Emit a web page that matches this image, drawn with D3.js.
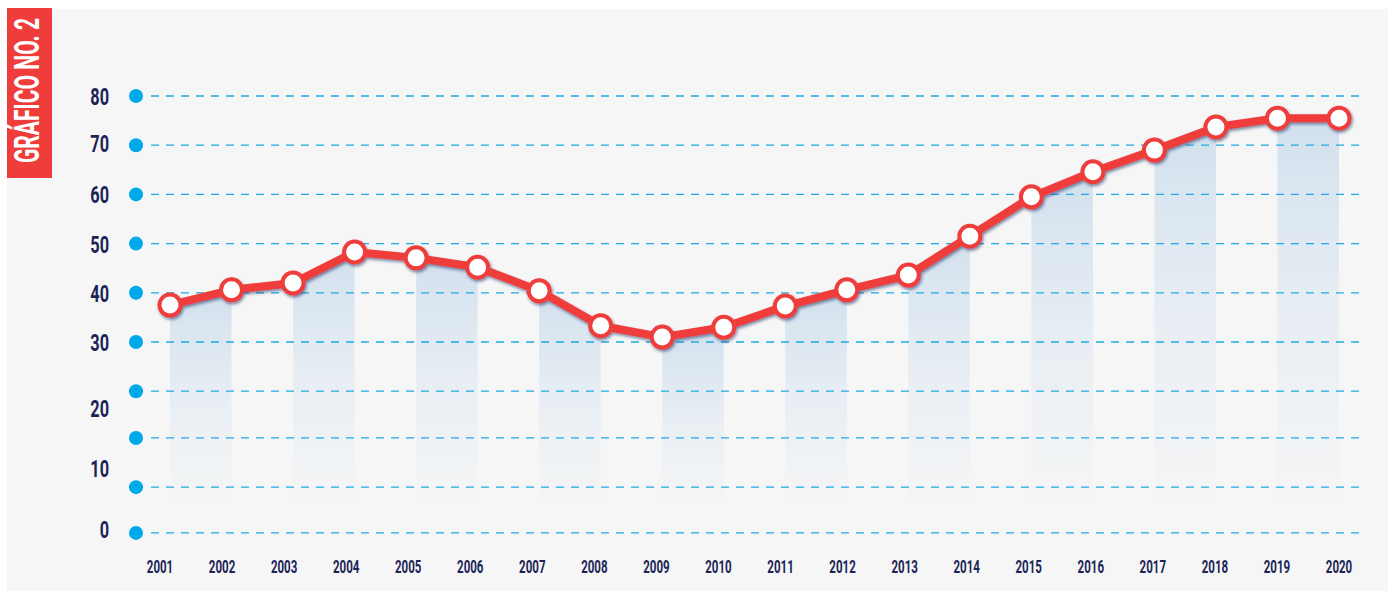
<!DOCTYPE html>
<html>
<head>
<meta charset="utf-8">
<script src="https://cdn.jsdelivr.net/npm/d3@7"></script>
<style>
  html, body { margin: 0; padding: 0; background: #fff; }
  svg { display: block; font-family: Roboto, "DejaVu Sans", sans-serif; }
</style>
</head>
<body>
<div id="chart"></div>
<script>
// Gráfico No. 2 - línea 2001-2020

const years = [2001, 2002, 2003, 2004, 2005, 2006, 2007, 2008, 2009, 2010,
               2011, 2012, 2013, 2014, 2015, 2016, 2017, 2018, 2019, 2020]
const values = [37.5, 40.6, 42.0, 48.3, 47.1, 45.2, 40.4, 33.3, 31.0, 33.0,
                37.3, 40.6, 43.6, 51.5, 59.5, 64.6, 69.0, 73.7, 75.5, 75.5]

// dashed guide lines (value each one sits at)
const gridValues = [80, 70, 60, 50, 40, 30, 20, 10.5, 0.5, -8.8]
// y labels and the value each one is printed at
const yTickLabels = ["80", "70", "60", "50", "40", "30", "20", "10", "0"]
const yTickAt = [80, 70.4, 60, 50, 40, 30, 16.6, 4.4, -8]

const title = "GRÁFICO NO. 2"

const W = 1389, H = 594
const colors = {red: "#ef3d3b", navy: "#1b2457", cyan: "#00a9e9", dash: "#1eaae6", panel: "#f6f6f6"}

const svg = d3.select("#chart").append("svg")
    .attr("width", W)
    .attr("height", H)

const x = d3.scaleLinear().domain([2001, 2020]).range([170, 1339])
const xLab = d3.scaleLinear().domain([2001, 2020]).range([160, 1339])
const y = d3.scaleLinear().domain([30, 80]).range([342, 96])
const baseValue = -2.5

const defs = svg.append("defs")

const grad = defs.append("linearGradient")
    .attr("id", "barGrad")
    .attr("x1", 0).attr("y1", 0).attr("x2", 0).attr("y2", 1)
grad.append("stop").attr("offset", "0%").attr("stop-color", "#cfdfed").attr("stop-opacity", 0.95)
grad.append("stop").attr("offset", "100%").attr("stop-color", "#e6edf4").attr("stop-opacity", 0.15)

const shadow = defs.append("filter")
    .attr("id", "shadow")
    .attr("x", "-10%").attr("y", "-10%").attr("width", "120%").attr("height", "130%")
shadow.append("feDropShadow")
    .attr("dx", 1.2).attr("dy", 2)
    .attr("stdDeviation", 1.4)
    .attr("flood-color", "#0e2b5c")
    .attr("flood-opacity", 0.55)

// background panel
svg.append("rect")
    .attr("x", 7).attr("y", 9)
    .attr("width", 1381).attr("height", 582)
    .style("fill", colors.panel)

// title tab
svg.append("rect")
    .attr("x", 7).attr("y", 8)
    .attr("width", 45).attr("height", 170)
    .style("fill", colors.red)
svg.append("text")
    .attr("transform", "translate(39,163) rotate(-90)")
    .attr("textLength", 145)
    .attr("lengthAdjust", "spacingAndGlyphs")
    .style("font-size", "35px")
    .style("font-weight", 700)
    .style("fill", "#fff")
    .text(title)

// shaded columns under the line, every other pair of years
const points = years.map((yr, i) => ({yr: yr, v: values[i]}))
const pairs = d3.range(0, points.length - 1, 2).map(i => [points[i], points[i + 1]])
const area = d3.area()
    .x(d => x(d.yr))
    .y0(y(baseValue))
    .y1(d => y(d.v))

svg.append("g")
    .selectAll("path")
    .data(pairs).enter()
    .append("path")
    .attr("d", area)
    .style("fill", "url(#barGrad)")

// grid: dots and dashed lines
const grid = svg.append("g")
grid.selectAll("line")
    .data(gridValues).enter()
    .append("line")
    .attr("x1", 151)
    .attr("x2", 1362)
    .attr("y1", d => y(d))
    .attr("y2", d => y(d))
    .style("stroke", colors.dash)
    .style("stroke-width", 1.3)
    .style("stroke-dasharray", "8,7")
grid.selectAll("circle")
    .data(gridValues).enter()
    .append("circle")
    .attr("cx", 136)
    .attr("cy", d => y(d))
    .attr("r", 7)
    .style("fill", colors.cyan)

// y labels
svg.append("g")
    .selectAll("text")
    .data(yTickLabels).enter()
    .append("text")
    .attr("transform", (d, i) => "translate(109," + (y(yTickAt[i]) + 9) + ") scale(0.68,1)")
    .attr("text-anchor", "end")
    .style("font-size", "24px")
    .style("font-weight", 700)
    .style("fill", colors.navy)
    .text(d => d)

// x labels
svg.append("g")
    .selectAll("text")
    .data(years).enter()
    .append("text")
    .attr("transform", d => "translate(" + xLab(d) + ",573) scale(0.64,1)")
    .attr("text-anchor", "middle")
    .style("font-size", "18px")
    .style("font-weight", 700)
    .style("fill", colors.navy)
    .text(d => d)

// the line with its markers
const lineG = svg.append("g").attr("filter", "url(#shadow)")
lineG.append("path")
    .datum(points)
    .attr("d", d3.line().x(d => x(d.yr)).y(d => y(d.v)))
    .style("fill", "none")
    .style("stroke", colors.red)
    .style("stroke-width", 8)
    .style("stroke-linejoin", "round")
lineG.selectAll("circle")
    .data(points).enter()
    .append("circle")
    .attr("cx", d => x(d.yr))
    .attr("cy", d => y(d.v))
    .attr("r", 10.5)
    .style("fill", "#fff")
    .style("stroke", colors.red)
    .style("stroke-width", 4)
</script>
</body>
</html>
